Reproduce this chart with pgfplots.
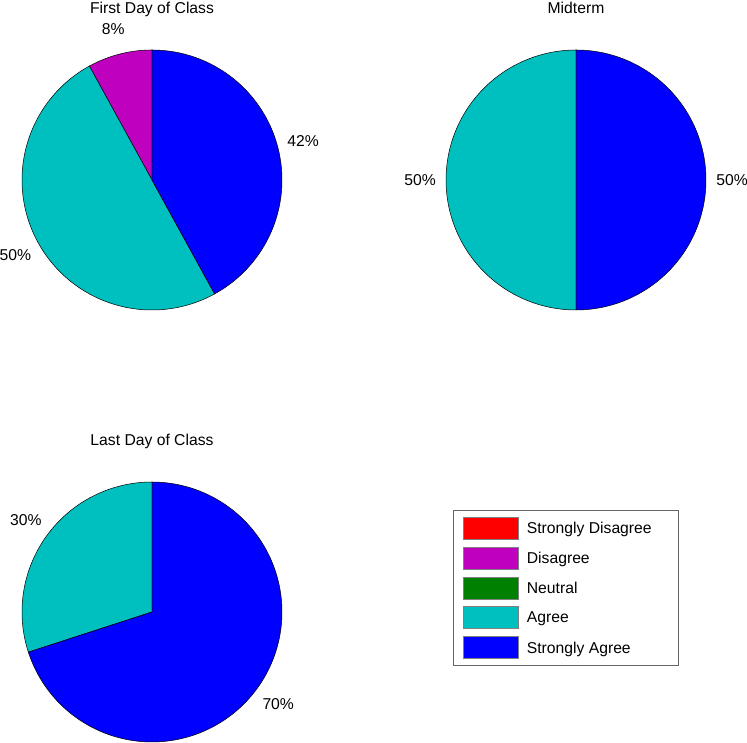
\documentclass[border=0pt]{standalone}
\usepackage{fontspec}
\setmainfont{Liberation Sans}
\usepackage{pgfplots}
\pgfplotsset{compat=1.18}
\definecolor{cSD}{RGB}{255,0,0}
\definecolor{cD}{RGB}{191,0,191}
\definecolor{cN}{RGB}{0,128,0}
\definecolor{cA}{RGB}{0,191,191}
\definecolor{cSA}{RGB}{0,0,255}
% pie radius (px)
\def\R{130}
% \slice{cx}{cy}{cumulative % before}{slice %}{colour}
\newcommand\slice[5]{%
  \addplot[fill=#5, draw=black, line width=0.5bp, forget plot,
    domain={90+3.6*(#3)}:{90+3.6*(#3+#4)}, samples=120]
    ({#1+\R*cos(x)},{#2+\R*sin(x)}) -- (axis cs:#1,#2) -- cycle;
  \node[anchor=center] at (axis cs:{#1+1.2*\R*cos(90+3.6*(#3+#4/2))},{#2+1.2*\R*sin(90+3.6*(#3+#4/2))}) {#4\%};}
\begin{document}
\begin{tikzpicture}
\begin{axis}[
  width=747bp, height=743bp, scale only axis,
  xmin=0, xmax=747, ymin=0, ymax=743,
  hide axis, clip=false,
  font=\fontsize{15.7bp}{18bp}\selectfont,
  legend style={at={(axis cs:453,233)}, anchor=north west,
    draw=gray!80!black, fill=white, line width=0.6bp,
    inner xsep=10bp, inner ysep=6.5bp, row sep=7.3bp, column sep=6bp,
    font=\fontsize{15.7bp}{18bp}\selectfont},
  legend cell align=left,
  legend image code/.code={\draw[#1, draw=gray] (0bp,-10.5bp) rectangle (55bp,11.5bp);},
]
\addlegendimage{fill=cSD}\addlegendentry{Strongly Disagree\hspace*{15bp}}
\addlegendimage{fill=cD}\addlegendentry{Disagree}
\addlegendimage{fill=cN}\addlegendentry{Neutral}
\addlegendimage{fill=cA}\addlegendentry{Agree}
\addlegendimage{fill=cSA}\addlegendentry{Strongly Agree}
% First Day of Class: Disagree 8, Agree 50, Strongly Agree 42
\slice{152}{563}{0}{8}{cD}
\slice{152}{563}{8}{50}{cA}
\slice{152}{563}{58}{42}{cSA}
% Midterm: Agree 50, Strongly Agree 50
\slice{576}{563}{0}{50}{cA}
\slice{576}{563}{50}{50}{cSA}
% Last Day of Class: Agree 30, Strongly Agree 70
\slice{152}{131}{0}{30}{cA}
\slice{152}{131}{30}{70}{cSA}
\node[anchor=base] at (axis cs:152,729) {First Day of Class};
\node[anchor=base] at (axis cs:576,729) {Midterm};
\node[anchor=base] at (axis cs:152,297) {Last Day of Class};
\end{axis}
\pgfresetboundingbox
\path (0,0) rectangle (747bp,743bp);
\end{tikzpicture}
\end{document}
